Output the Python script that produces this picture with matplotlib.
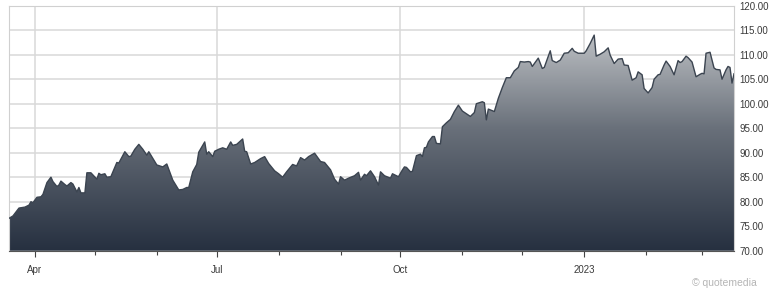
import numpy as np
import pandas as pd
import matplotlib
matplotlib.use("Agg")
import matplotlib.pyplot as plt
import matplotlib.dates as mdates
from matplotlib.colors import LinearSegmentedColormap

# datos: dias desde el 1 de abril de 2022 y precio
START = "2022-04-01"
days = [-13, -11, -8, -5, -3, -2, -1, 1, 3, 4, 6, 8, 9, 11, 12, 13, 15, 16, 18, 19,
        21, 22, 23, 25, 26, 28, 31, 32, 33, 35, 36, 38, 41, 42, 45, 47, 48, 50, 52, 54,
        56, 57, 61, 64, 66, 69, 72, 74, 76, 77, 79, 81, 82, 85, 86, 87, 89, 90, 92, 94,
        96, 98, 99, 101, 104, 105, 106, 108, 110, 113, 115, 117, 120, 122, 124, 126, 129, 131, 133, 135,
        137, 140, 143, 145, 148, 150, 152, 153, 155, 157, 160, 162, 163, 165, 166, 168, 170, 172, 173, 175,
        178, 179, 182, 184, 185, 186, 188, 189, 191, 193, 194, 195, 196, 197, 199, 200, 201, 203, 204, 206,
        208, 210, 212, 214, 218, 220, 221, 224, 225, 226, 227, 230, 232, 234, 236, 238, 240, 242, 243, 245,
        247, 248, 249, 252, 254, 255, 258, 259, 261, 263, 265, 267, 269, 270, 272, 275, 276, 278, 280, 281,
        283, 285, 287, 288, 290, 292, 294, 295, 297, 299, 301, 302, 304, 305, 307, 309, 310, 312, 313, 315,
        316, 318, 320, 322, 323, 324, 326, 327, 329, 331, 333, 334, 335, 336, 338, 340, 341, 343, 344, 346,
        347, 348, 349, 350]
precio = [76.6, 77.1, 78.7, 78.9, 79.3, 80.0, 79.8, 80.9, 81.0, 81.5, 83.9, 85.0, 84.1, 83.1, 83.4, 84.2, 83.5, 83.2, 83.9, 83.6,
          82.0, 82.9, 81.8, 81.8, 85.9, 85.9, 84.6, 85.8, 85.5, 85.7, 85.0, 85.1, 88.0, 87.9, 90.2, 89.2, 89.3, 90.7, 91.7, 90.7,
          89.5, 90.2, 87.5, 87.1, 87.7, 84.4, 82.4, 82.5, 82.9, 82.9, 86.1, 87.6, 90.1, 92.2, 89.7, 90.2, 89.2, 90.3, 90.7, 91.0,
          90.7, 92.2, 91.5, 91.7, 92.8, 90.3, 90.2, 87.7, 88.0, 88.8, 89.2, 87.8, 86.3, 85.7, 85.0, 86.1, 87.6, 87.3, 89.0, 88.5,
          89.2, 89.9, 88.2, 88.0, 86.5, 84.6, 83.6, 85.1, 84.4, 84.8, 85.3, 86.0, 84.4, 85.6, 85.3, 86.3, 85.1, 83.4, 86.1, 85.3,
          84.8, 85.7, 85.1, 86.5, 87.1, 87.0, 86.1, 86.2, 89.4, 89.7, 89.2, 91.0, 91.1, 92.2, 93.3, 93.3, 91.9, 91.8, 95.3, 96.1,
          96.8, 98.4, 99.7, 98.5, 97.4, 98.2, 100.0, 100.4, 100.2, 96.7, 98.9, 98.4, 101.1, 103.3, 105.3, 105.3, 106.7, 107.4, 108.6, 108.5,
          108.6, 108.5, 107.6, 109.3, 107.2, 107.4, 110.8, 108.8, 108.4, 108.9, 110.3, 110.4, 111.3, 110.7, 110.3, 110.3, 110.8, 112.3, 114.0, 109.7,
          110.1, 110.6, 111.4, 109.9, 108.2, 109.1, 109.2, 107.9, 107.8, 104.8, 105.3, 106.5, 105.9, 103.1, 102.2, 103.3, 105.0, 105.9, 106.0, 107.9,
          108.7, 107.6, 105.9, 108.8, 108.4, 108.6, 109.7, 109.4, 108.5, 105.5, 106.0, 106.2, 106.1, 110.3, 110.5, 107.3, 107.0, 106.9, 105.0, 106.9,
          107.6, 107.4, 104.2, 106.1]

meses_label = ["2022-04-01", "2022-07-01", "2022-10-01", "2023-01-01"]
etiquetas_x = ["Apr", "Jul", "Oct", "2023"]
meses_menor = ["2022-05-01", "2022-06-01", "2022-08-01", "2022-09-01", "2022-11-01",
               "2022-12-01", "2023-02-01", "2023-03-01"]
niveles_y = [70, 75, 80, 85, 90, 95, 100, 105, 110, 115, 120]

fechas = pd.Timestamp(START) + pd.to_timedelta(days, unit="D")
x = mdates.date2num(fechas.to_pydatetime())
y = np.array(precio)

plt.rcParams['font.family'] = ['Liberation Sans', 'DejaVu Sans']

fig = plt.figure(figsize=(7.8, 2.89), dpi=100)
ax = fig.add_axes([9 / 780, 38.3 / 289, 725 / 780, 245 / 289])

ax.set_xlim(x[0], x[-1])
ax.set_ylim(70, 120)

# rejilla
for v in niveles_y:
    ax.axhline(v, color="#d9d9d9", lw=1.1, zorder=0)
for d in meses_label:
    ax.axvline(mdates.datestr2num(d), color="#d9d9d9", lw=1.1, zorder=0)

# relleno con degradado
cmap = LinearSegmentedColormap.from_list("grad", ["#263040", "#69707a", "#d6d8da"])
grad = np.linspace(0, 1, 256).reshape(-1, 1)
im = ax.imshow(grad, extent=[x[0], x[-1], 70, 120], origin="lower", aspect="auto",
               cmap=cmap, zorder=1)
poly = ax.fill_between(x, y, 70, facecolor="none", edgecolor="none")
im.set_clip_path(poly.get_paths()[0], transform=ax.transData)
ax.plot(x, y, color="#3b4450", lw=1.0, zorder=3)

# ejes
ax.yaxis.tick_right()
ax.set_yticks(niveles_y)
ax.set_yticklabels([f"{v:.2f}" for v in niveles_y])
ax.tick_params(axis="y", length=0, pad=4, labelsize=7, labelcolor="#3a3a3a")

ax.set_xticks([mdates.datestr2num(d) for d in meses_label])
ax.set_xticklabels(etiquetas_x)
ax.set_xticks([mdates.datestr2num(d) for d in meses_menor], minor=True)
ax.tick_params(axis="x", which="major", length=4, width=0.8, color="#444444",
               labelsize=7, labelcolor="#3a3a3a", pad=6)
ax.tick_params(axis="x", which="minor", length=3, width=0.8, color="#444444")

for lado in ["left", "right", "top"]:
    ax.spines[lado].set_color("#d0d0d0")
    ax.spines[lado].set_linewidth(0.8)
ax.spines["bottom"].set_color("#555555")
ax.spines["bottom"].set_linewidth(0.8)

fig.text(757 / 780, 1 - 283 / 289, "© quotemedia", ha="right", va="center",
         fontsize=7.5, color="#b5b5b5")

fig.savefig("out.png", dpi=100, facecolor="white")
